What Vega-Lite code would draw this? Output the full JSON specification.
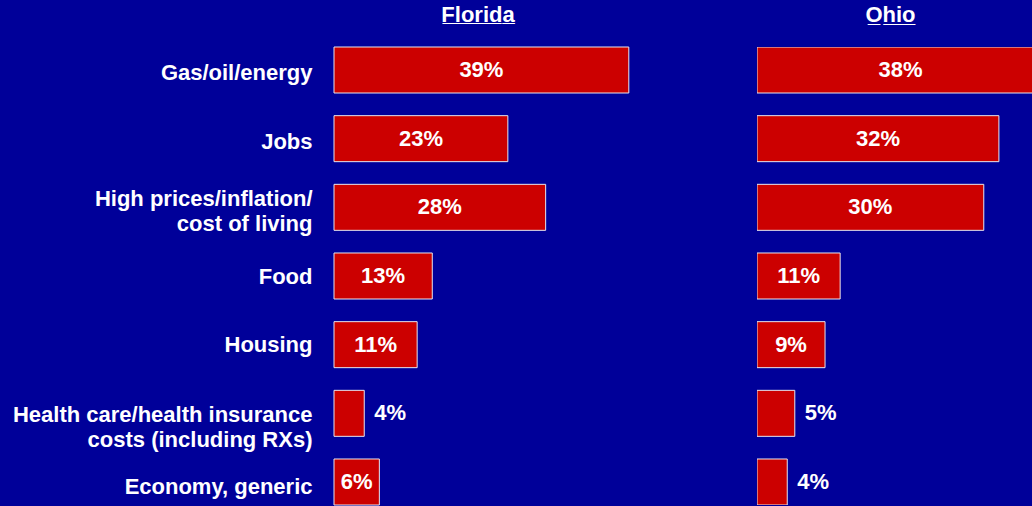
{
  "$schema": "https://vega.github.io/schema/vega-lite/v6.json",
  "background": "#000099",
  "padding": {"left": 12, "top": 3, "right": 0, "bottom": 1},
  "data": {"values": [
    {"state": "Florida", "issue": "Gas/oil/energy", "value": 39},
    {"state": "Florida", "issue": "Jobs", "value": 23},
    {"state": "Florida", "issue": "High prices/inflation/|cost of living", "value": 28},
    {"state": "Florida", "issue": "Food", "value": 13},
    {"state": "Florida", "issue": "Housing", "value": 11},
    {"state": "Florida", "issue": "Health care/health insurance|costs (including RXs)", "value": 4},
    {"state": "Florida", "issue": "Economy, generic", "value": 6},
    {"state": "Ohio", "issue": "Gas/oil/energy", "value": 38},
    {"state": "Ohio", "issue": "Jobs", "value": 32},
    {"state": "Ohio", "issue": "High prices/inflation/|cost of living", "value": 30},
    {"state": "Ohio", "issue": "Food", "value": 11},
    {"state": "Ohio", "issue": "Housing", "value": 9},
    {"state": "Ohio", "issue": "Health care/health insurance|costs (including RXs)", "value": 5},
    {"state": "Ohio", "issue": "Economy, generic", "value": 4}
  ]},
  "spacing": 127,
  "config": {
    "view": {"stroke": null},
    "title": {"font": "Liberation Sans", "fontSize": 22, "fontWeight": "bold", "color": "#FFFFFF", "offset": 20, "anchor": "middle"},
    "text": {"font": "Liberation Sans", "fontSize": 22, "fontWeight": "bold", "color": "#FFFFFF", "baseline": "middle"}
  },
  "hconcat": [
    {
      "title": {"text": "F\u0332l\u0332o\u0332r\u0332i\u0332d\u0332a\u0332"},
      "width": 288,
      "height": 458,
      "transform": [
        {"filter": "datum.state === 'Florida'"},
        {"calculate": "datum.value + '%'", "as": "label"},
        {"calculate": "datum.value / 2", "as": "mid"}
      ],
      "encoding": {
        "y": {
          "field": "issue", "type": "nominal", "sort": null,
          "scale": {"paddingInner": 0.33, "paddingOuter": 0},
          "axis": {
            "title": null, "domain": false, "ticks": false, "labelPadding": 22,
            "labelOffset": {
              "condition": [
                {"test": "indexof(datum.value, 'High prices') === 0", "value": -8},
                {"test": "indexof(datum.value, 'Health care') === 0", "value": 2},
                {"test": "datum.value === 'Housing'", "value": 0},
                {"test": "datum.value === 'Food'", "value": 1},
                {"test": "datum.value === 'Economy, generic'", "value": 5}
              ],
              "value": 3
            },
            "labelExpr": "split(datum.label, '|')",
            "labelFont": "Liberation Sans", "labelFontSize": 22, "labelFontWeight": "bold",
            "labelColor": "#FFFFFF", "labelLineHeight": 25, "labelLimit": 400
          }
        }
      },
      "layer": [
        {
          "mark": {"type": "bar", "color": "#CC0000", "stroke": "#E6E6F0", "strokeWidth": 1},
          "encoding": {"x": {"field": "value", "type": "quantitative", "scale": {"domain": [0, 38.1]}, "axis": null}}
        },
        {
          "transform": [{"filter": "datum.value >= 6"}],
          "mark": {"type": "text", "align": "center"},
          "encoding": {
            "x": {"field": "mid", "type": "quantitative", "scale": {"domain": [0, 38.1]}, "axis": null},
            "text": {"field": "label"}
          }
        },
        {
          "transform": [{"filter": "datum.value < 6"}],
          "mark": {"type": "text", "align": "left", "dx": 10},
          "encoding": {
            "x": {"field": "value", "type": "quantitative", "scale": {"domain": [0, 38.1]}, "axis": null},
            "text": {"field": "label"}
          }
        }
      ]
    },
    {
      "title": {"text": "O\u0332h\u0332i\u0332o\u0332", "dx": -4},
      "width": 275,
      "height": 458,
      "transform": [
        {"filter": "datum.state === 'Ohio'"},
        {"calculate": "datum.value + '%'", "as": "label"},
        {"calculate": "datum.value / 2", "as": "mid"}
      ],
      "encoding": {
        "y": {
          "field": "issue", "type": "nominal", "sort": null,
          "scale": {"paddingInner": 0.33, "paddingOuter": 0},
          "axis": null
        }
      },
      "layer": [
        {
          "mark": {"type": "bar", "color": "#CC0000", "stroke": "#E6E6F0", "strokeWidth": 1, "clip": true},
          "encoding": {"x": {"field": "value", "type": "quantitative", "scale": {"domain": [0, 36.38]}, "axis": null}}
        },
        {
          "transform": [{"filter": "datum.value >= 6"}],
          "mark": {"type": "text", "align": "center"},
          "encoding": {
            "x": {"field": "mid", "type": "quantitative", "scale": {"domain": [0, 36.38]}, "axis": null},
            "text": {"field": "label"}
          }
        },
        {
          "transform": [{"filter": "datum.value < 6"}],
          "mark": {"type": "text", "align": "left", "dx": 10},
          "encoding": {
            "x": {"field": "value", "type": "quantitative", "scale": {"domain": [0, 36.38]}, "axis": null},
            "text": {"field": "label"}
          }
        }
      ]
    }
  ]
}
